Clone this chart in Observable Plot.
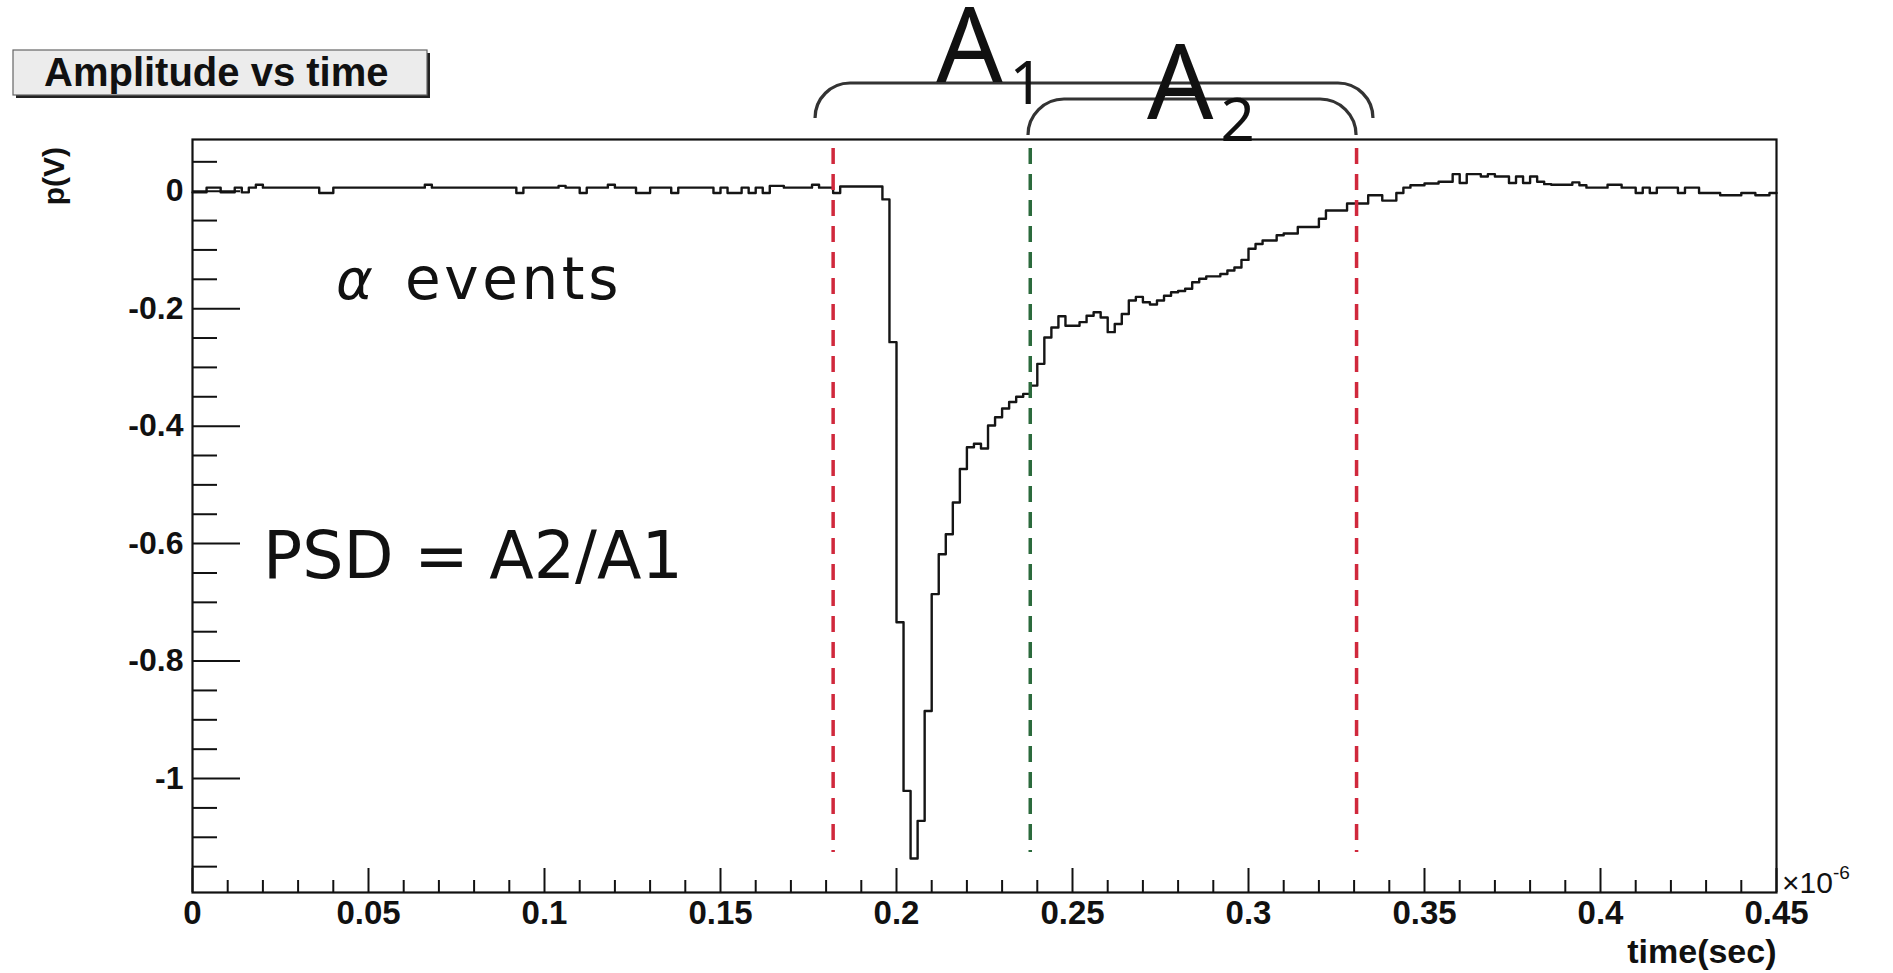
<!DOCTYPE html>
<html><head><meta charset="utf-8">
<script src="https://cdn.jsdelivr.net/npm/d3@7"></script>
<script src="https://cdn.jsdelivr.net/npm/@observablehq/plot@0.6"></script>
<style>
html,body{margin:0;padding:0;background:#fff;}
#chart{position:relative;width:1893px;height:973px;overflow:hidden;}
</style></head><body><div id="chart"></div>
<script>
// ---- data (time in units of 1e-6 s, amplitude in V) ----
const binStartUs = 0;
const binWidthUs = 0.002;
const amplitudeV = [
  -0.002,-0.002,0.006,0.006,-0.002,-0.002,0.006,-0.002,0.006,0.011,
  0.006,0.006,0.006,0.006,0.006,0.006,0.006,0.006,-0.003,-0.003,
  0.006,0.006,0.006,0.006,0.006,0.006,0.006,0.006,0.006,0.006,
  0.006,0.006,0.006,0.011,0.006,0.006,0.006,0.006,0.006,0.006,
  0.006,0.006,0.006,0.006,0.006,0.006,-0.003,0.006,0.006,0.006,
  0.006,0.006,0.009,0.006,0.006,-0.003,0.006,0.006,0.006,0.011,
  0.006,0.006,0.006,-0.003,-0.003,0.006,0.006,0.006,-0.003,0.006,
  0.006,0.006,0.006,0.006,-0.003,0.006,-0.003,-0.003,0.006,-0.003,
  0.006,-0.003,0.009,0.009,0.006,0.006,0.006,0.006,0.011,0.006,
  0.006,-0.003,0.008,0.008,0.008,0.008,0.008,0.008,-0.014,-0.257,
  -0.734,-1.021,-1.136,-1.072,-0.885,-0.686,-0.618,-0.584,-0.530,-0.473,
  -0.436,-0.430,-0.438,-0.399,-0.385,-0.370,-0.359,-0.350,-0.345,-0.331,
  -0.294,-0.249,-0.232,-0.213,-0.229,-0.229,-0.223,-0.212,-0.206,-0.215,
  -0.240,-0.226,-0.209,-0.186,-0.180,-0.189,-0.193,-0.186,-0.178,-0.172,
  -0.170,-0.166,-0.155,-0.149,-0.145,-0.145,-0.141,-0.135,-0.130,-0.117,
  -0.098,-0.090,-0.084,-0.084,-0.075,-0.072,-0.072,-0.061,-0.061,-0.061,
  -0.047,-0.033,-0.033,-0.033,-0.021,-0.021,-0.021,-0.007,-0.007,-0.016,
  -0.016,-0.003,0.006,0.010,0.010,0.013,0.013,0.016,0.016,0.029,
  0.014,0.029,0.029,0.025,0.029,0.025,0.025,0.014,0.025,0.014,
  0.025,0.016,0.012,0.011,0.011,0.011,0.015,0.010,0.006,0.006,
  0.006,0.011,0.011,0.006,0.006,-0.003,0.006,-0.003,0.006,0.006,
  0.006,-0.003,0.006,0.006,-0.003,-0.003,-0.003,-0.007,-0.007,-0.007,
  -0.003,-0.003,-0.007,-0.007,-0.003
];
const xDomainUs = [0, 0.45];
const yDomainV = [-1.194, 0.088];

const markerTimesUs = [0.182, 0.238, 0.3307];
const markerColors = ["#d0283c", "#2b6a3c", "#d0283c"];

const braceNames = ["A1", "A2"];
const braceStartUs = [0.177, 0.2375];
const braceEndUs = [0.3355, 0.3307];
const braceLabelUs = [0.2114, 0.2713];
const braceSubs = ["1", "2"];

const xMajorTicks = [0, 0.05, 0.1, 0.15, 0.2, 0.25, 0.3, 0.35, 0.4, 0.45];
const xTickLabels = ["0", "0.05", "0.1", "0.15", "0.2", "0.25", "0.3", "0.35", "0.4", "0.45"];
const xMinorTicks = [0.01,0.02,0.03,0.04,0.06,0.07,0.08,0.09,0.11,0.12,0.13,0.14,0.16,0.17,0.18,0.19,
  0.21,0.22,0.23,0.24,0.26,0.27,0.28,0.29,0.31,0.32,0.33,0.34,0.36,0.37,0.38,0.39,0.41,0.42,0.43,0.44];
const yMajorTicks = [0, -0.2, -0.4, -0.6, -0.8, -1];
const yTickLabels = ["0", "-0.2", "-0.4", "-0.6", "-0.8", "-1"];
const yMinorTicks = [0.05,-0.05,-0.1,-0.15,-0.25,-0.3,-0.35,-0.45,-0.5,-0.55,-0.65,-0.7,-0.75,-0.85,-0.9,-0.95,-1.05,-1.1,-1.15];

const titleText = "Amplitude vs time";
const xTitle = "time(sec)";
const yTitle = "p(V)";
const eventLabel = "events";
const psdLabel = "PSD = A2/A1";

// ---- layout ----
const W = 1893, H = 973;
const mL = 192, mR = 117, mT = 139, mB = 81;
const innerW = W - mL - mR, innerH = H - mT - mB;
const tickFont = "'Liberation Sans', Arial, sans-serif";
const slideFont = "'DejaVu Sans', 'Noto Sans', sans-serif";
const braceFont = "'Noto Sans', 'Open Sans', sans-serif";

const rows = amplitudeV.map((v, i) => ({t: binStartUs + i * binWidthUs, v}));
rows.push({t: xDomainUs[1], v: amplitudeV[amplitudeV.length - 1]});
const markers = markerTimesUs.map((t, i) => ({t, color: markerColors[i]}));

const chart = Plot.plot({
  width: W, height: H,
  marginLeft: mL, marginRight: mR, marginTop: mT, marginBottom: mB,
  style: {background: "#fff", overflow: "visible"},
  x: {domain: xDomainUs, axis: null},
  y: {domain: yDomainV, axis: null},
  color: {type: "identity"},
  marks: [
    Plot.line(rows, {x: "t", y: "v", curve: "step-after", stroke: "#151515", strokeWidth: 2.4}),
    Plot.ruleX(markers, {x: "t", stroke: "color", strokeWidth: 3.5, strokeDasharray: "16,10", insetTop: 9, insetBottom: 40}),
    Plot.ruleY(yMajorTicks, {y: d => d, insetRight: innerW - 48, stroke: "#111", strokeWidth: 2}),
    Plot.ruleY(yMinorTicks, {y: d => d, insetRight: innerW - 25, stroke: "#111", strokeWidth: 2}),
    Plot.ruleX(xMajorTicks, {x: d => d, insetTop: innerH - 24, stroke: "#111", strokeWidth: 2}),
    Plot.ruleX(xMinorTicks, {x: d => d, insetTop: innerH - 12, stroke: "#111", strokeWidth: 2}),
    Plot.frame({stroke: "#111", strokeWidth: 2.2}),
    Plot.text(yMajorTicks, {y: d => d, text: (d, i) => yTickLabels[i], frameAnchor: "left", textAnchor: "end", dx: -9,
      fontSize: 32, fontWeight: "bold", fontFamily: tickFont, fill: "#111"}),
    Plot.text(xMajorTicks, {x: d => d, text: (d, i) => xTickLabels[i], frameAnchor: "bottom", lineAnchor: "top", dy: 8,
      fontSize: 33, fontWeight: "bold", fontFamily: tickFont, fill: "#111"}),
    Plot.text([xTitle], {text: d => d, frameAnchor: "bottom-right", textAnchor: "end", lineAnchor: "top", dy: 46,
      fontSize: 34, fontWeight: "bold", fontFamily: tickFont, fill: "#111"})
  ]
});
document.getElementById("chart").appendChild(chart);

// ---- annotations placed with the chart's own scales ----
const xs = chart.scale("x"), ys = chart.scale("y");
const svg = d3.select(chart);
const frameTop = ys.apply(yDomainV[1]);
const frameBottom = ys.apply(yDomainV[0]);
const frameRight = xs.apply(xDomainUs[1]);

// x10^-6 multiplier
const mult = svg.append("text").attr("x", frameRight + 6).attr("y", frameBottom + 1)
  .attr("text-anchor", "start").attr("font-family", tickFont).attr("font-size", 30).attr("fill", "#111");
mult.append("tspan").text("\u00d710");
mult.append("tspan").attr("dy", -14).attr("font-size", 19).text("-6");

// y title (rotated)
svg.append("text").attr("transform", `translate(64,${frameTop + 8}) rotate(-90)`)
  .attr("text-anchor", "end").attr("font-family", tickFont).attr("font-weight", "bold")
  .attr("font-size", 30).attr("fill", "#111").text(yTitle);

// title box
const tb = svg.append("g");
tb.append("rect").attr("x", 16).attr("y", 53).attr("width", 414).attr("height", 45).attr("fill", "#222");
tb.append("rect").attr("x", 13).attr("y", 50).attr("width", 414).attr("height", 45)
  .attr("fill", "#ececec").attr("stroke", "#666").attr("stroke-width", 1.2);
tb.append("text").attr("x", 44).attr("y", 86).attr("text-anchor", "start").attr("font-family", tickFont)
  .attr("font-weight", "bold").attr("font-size", 40).attr("fill", "#111").text(titleText);

// braces
const braceTopPx = [frameTop - 56, frameTop - 40];
const braceR = [35, 36];
braceNames.forEach((name, i) => {
  const x0 = xs.apply(braceStartUs[i]), x1 = xs.apply(braceEndUs[i]);
  const yt = braceTopPx[i], r = braceR[i];
  svg.append("path")
    .attr("d", `M${x0},${yt + r} A${r},${r} 0 0 1 ${x0 + r},${yt} L${x1 - r},${yt} A${r},${r} 0 0 1 ${x1},${yt + r}`)
    .attr("fill", "none").attr("stroke", "#333").attr("stroke-width", 3.2);
});
// brace labels A1, A2
const labelBase = [frameTop - 57, frameTop - 20];
braceNames.forEach((name, i) => {
  const t = svg.append("text").attr("x", xs.apply(braceLabelUs[i])).attr("y", labelBase[i])
    .attr("text-anchor", "start").attr("font-family", braceFont).attr("font-size", 104).attr("fill", "#111");
  t.append("tspan").text("A");
  t.append("tspan").attr("dx", 7).attr("dy", 22).attr("font-size", 60).text(braceSubs[i]);
});

// slide annotations
svg.append("text").attr("x", 336).attr("y", 299).attr("text-anchor", "start").attr("font-family", slideFont)
  .attr("font-style", "italic").attr("font-size", 56).attr("fill", "#111").text("\u03b1");
svg.append("text").attr("x", 405).attr("y", 299).attr("text-anchor", "start").attr("font-family", slideFont)
  .attr("font-size", 58).attr("letter-spacing", 3.6).attr("fill", "#111").text(eventLabel);
svg.append("text").attr("x", 263).attr("y", 578).attr("text-anchor", "start").attr("font-family", slideFont)
  .attr("font-size", 65).attr("fill", "#111").text(psdLabel);
</script>
</body></html>
